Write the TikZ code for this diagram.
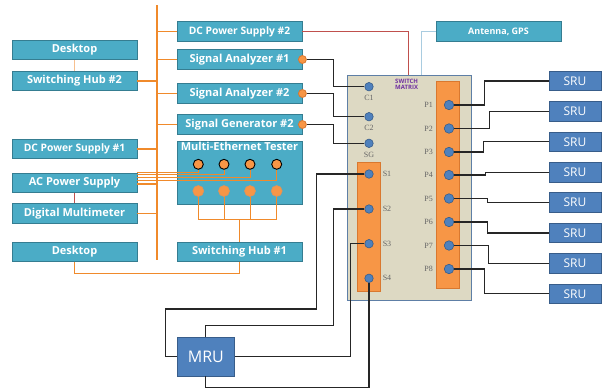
\documentclass[tikz,border=0pt]{standalone}
\usepackage{fontspec}
\setmainfont{Open Sans}
\newfontfamily\portfont{Liberation Serif}
\usetikzlibrary{positioning}

\definecolor{unitfill}{HTML}{4BACC6}
\definecolor{unitline}{HTML}{357D91}
\definecolor{busorange}{HTML}{F08A2B}
\definecolor{padorange}{HTML}{F79646}
\definecolor{padline}{HTML}{D9782F}
\definecolor{matrixfill}{HTML}{DDD9C3}
\definecolor{matrixline}{HTML}{5E7FA6}
\definecolor{runit}{HTML}{4F81BD}
\definecolor{runitline}{HTML}{385D8A}
\definecolor{powerred}{HTML}{C0504D}
\definecolor{antline}{HTML}{A9CCE0}
\definecolor{softorange}{HTML}{F7C08F}
\definecolor{labelpurple}{HTML}{7030A0}

\begin{document}
\begin{tikzpicture}[x=1pt, y=-1pt,
  unit/.style={draw=unitline, line width=0.8pt, fill=unitfill, text=white,
    font=\bfseries\fontsize{11}{13}\selectfont, minimum width=125pt,
    minimum height=19.5pt, inner sep=0pt, text height=8pt, text depth=2.2pt},
  smallunit/.style={unit, font=\bfseries\fontsize{10.3}{12}\selectfont},
  rbox/.style={draw=runitline, line width=0.8pt, fill=runit, text=white,
    font=\fontsize{12}{14}\selectfont, inner sep=0pt},
  strip/.style={draw=padline, line width=0.8pt, fill=padorange,
    minimum width=23pt, inner sep=0pt},
  port/.style={circle, draw=runitline, line width=0.6pt, fill=runit,
    minimum size=8.5pt, inner sep=0pt},
  jack/.style={circle, draw=padline, line width=0.8pt, fill=padorange,
    minimum size=8pt, inner sep=0pt},
  plabel/.style={font=\portfont\fontsize{8}{9}\selectfont, text=black!60,
    inner sep=0pt},
  bus/.style={busorange, line width=2.6pt},
  feed/.style={busorange, line width=1.8pt},
  eth/.style={busorange, line width=1pt},
  wire/.style={black!85, line width=1.1pt}
]
  \useasboundingbox (0,0) rectangle (602,388);

  % Bus
  \coordinate (bustop) at (157,5);
  \coordinate (busbot) at (157,260);
  \draw[bus] (bustop) -- (busbot);

  % Left instruments
  \node[unit] (desk1) at (74.5,50) {Desktop};
  \node[unit] (hub2) at (74.5,81) {Switching Hub \#2};
  \node[smallunit] (dc1) at (74.5,149) {DC Power Supply \#1};
  \node[unit] (ac) at (74.5,183) {AC Power Supply};
  \node[unit] (dmm) at (74.5,213.5) {Digital Multimeter};
  \node[unit] (desk2) at (74.5,252) {Desktop};

  % Right instruments
  \node[smallunit] (dc2) at (239.5,31.5) {DC Power Supply \#2};
  \node[unit] (sa1) at (239.5,59.5) {Signal Analyzer \#1};
  \node[unit] (sa2) at (239.5,93.5) {Signal Analyzer \#2};
  \node[unit] (sg2) at (239.5,124.5) {Signal Generator \#2};
  \node[unit, minimum height=63pt] (met) at (239.5,172.5) {};
  \node[unit, draw=none, fill=none, minimum height=0pt, below=1.5pt of met.north]
    (mettitle) {Multi-Ethernet Tester};
  \node[unit] (hub1) at (239.5,252) {Switching Hub \#1};

  % Bus feeds
  \foreach \n in {hub2,dc1,dmm}
    \draw[feed] (\n.east) -- (\n.east -| bustop);
  \foreach \n in {dc2,sa1,sa2,sg2}
    \draw[feed] (\n.west) -- (\n.west -| bustop);
  \draw[feed] ([yshift=-1pt]ac.east) -- ([yshift=-1pt]ac.east -| bustop);
  \draw[softorange, line width=0.8pt] (desk1.south) -- (hub2.north);
  \draw[powerred, line width=1pt] (ac.south) -- (dmm.north);

  % Ethernet tester ports
  \foreach \i/\x/\s in {1/198.3/11, 2/224/8.2, 3/250/5.4, 4/276.7/2.6} {
    \node[circle, draw=black, line width=0.9pt, fill=padorange, minimum size=10pt,
      inner sep=0pt] (t\i) at (\x,164.3) {};
    \node[circle, draw=padline!80, line width=0.6pt, fill=padorange, minimum size=11pt,
      inner sep=0pt] (b\i) at (\x,191) {};
    \draw[eth] (t\i.south) |- ([yshift=\s pt]ac.east);
  }
  \coordinate (ethjoin) at (239.5,219.3);
  \draw[eth] (b1.south) |- (ethjoin) -| (b4.south);
  \draw[eth] (b2.south) -- (b2.south |- ethjoin);
  \draw[eth] (b3.south) -- (b3.south |- ethjoin);
  \draw[eth] (ethjoin) -- (hub1.north);
  \draw[eth] (desk2.south) -- ++(0,11) -| (hub1.south);

  % Switch matrix
  \node[draw=matrixline, line width=1pt, fill=matrixfill, minimum width=124pt,
    minimum height=224.7pt, inner sep=0pt] (swm) at (409,187.7) {};
  \node[font=\bfseries\fontsize{6}{6.8}\selectfont, text=labelpurple, align=left,
    anchor=north west, inner sep=0pt] (swmtitle) at (395,78.5) {SWITCH\\MATRIX};
  \node[strip, minimum height=129.4pt] (sstrip) at (369.2,227) {};
  \node[strip, minimum height=206.6pt] (pstrip) at (447.8,185) {};
  \node[smallunit, font=\bfseries\fontsize{9}{10}\selectfont] (ant) at (498.5,31.2)
    {Antenna, GPS};
  \coordinate (pwrdrop) at (408.3,75.3);
  \coordinate (antdrop) at (421.7,75.3);
  \draw[powerred, line width=1.2pt] (dc2.east) -| (pwrdrop);
  \draw[antline, line width=1pt] (ant.west) -| (antdrop);

  % Control ports
  \node[port] (c1) at (369,86.7) {};
  \node[port] (c2) at (369,116.7) {};
  \node[port] (sg) at (369,143.3) {};
  \foreach \n/\t in {c1/C1, c2/C2, sg/SG}
    \node[plabel, below=4pt of \n] {\t};
  \foreach \n/\c in {sa1/c1, sa2/c2, sg2/sg} {
    \node[jack] (\n jack) at (\n.east) {};
    \draw[wire] (\n jack.east) -- ++(27,0) |- (\c.west);
  }

  % SRU side
  \foreach \i/\y/\d in {1/105/30.5, 2/128.5/35.5, 3/152/29.5, 4/175/31.5,
      5/198.5/33.5, 6/222/33.5, 7/245.5/34.5, 8/269/30.5} {
    \node[port, minimum height=9.5pt] (p\i) at (449,\y) {};
    \node[plabel, left=11pt of p\i] {P\i};
    \node[rbox, minimum width=52pt, minimum height=19.5pt] (sru\i)
      at (575,{81+30.4*(\i-1)}) {SRU};
    \draw[wire] (p\i.east) -- ++(\d,0) |- (sru\i.west);
  }

  % MRU side
  \foreach \i/\y in {1/174, 2/209, 3/243.7, 4/278.3} {
    \node[port] (s\i) at (369,\y) {};
    \node[plabel, right=9pt of s\i] {S\i};
  }
  \node[rbox, font=\fontsize{16}{18}\selectfont, minimum width=57pt,
    minimum height=38.3pt] (mru) at (205.8,356.8) {MRU};
  \draw[wire] (s1.west) -- ++(-48.3,0) -- ++(0,135) -| ([xshift=-11.6pt]mru.west)
    -- (mru.west);
  \draw[wire] (s2.west) -- ++(-30.7,0) -- ++(0,116.7) -| (mru.north);
  \draw[wire] (s3.west) -- ++(-14,0) |- (mru.east);
  \draw[wire] (s4.south) -- ++(0,104.2) -| (mru.south);
\end{tikzpicture}
\end{document}
